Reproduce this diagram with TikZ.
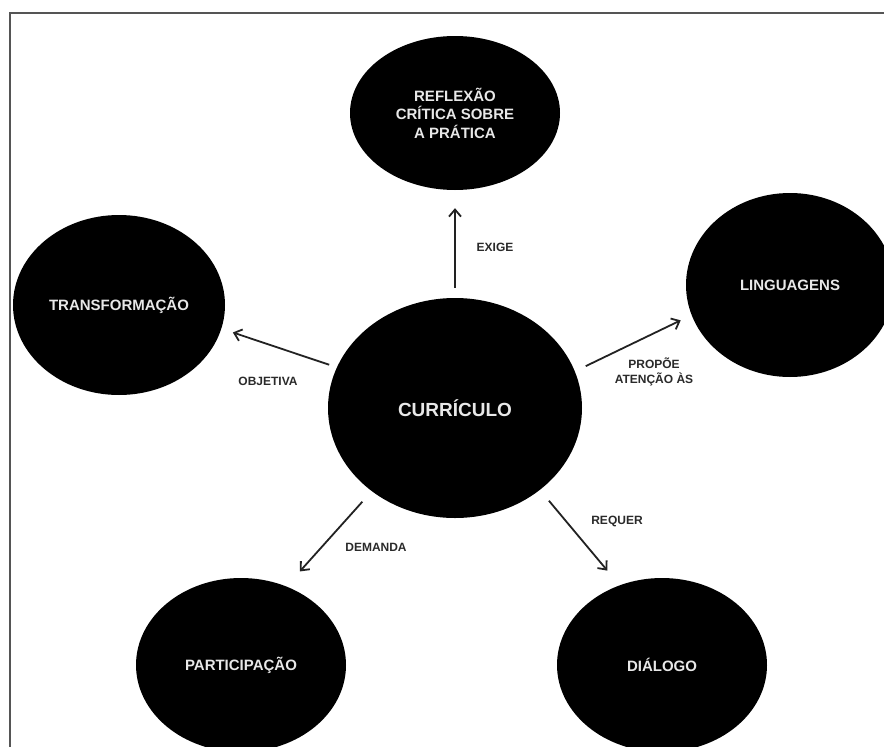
\documentclass[tikz,border=0pt]{standalone}
\usepackage{fontspec}
\setmainfont{Liberation Sans}
\usetikzlibrary{arrows.meta, shapes.geometric}
\definecolor{inkgrey}{HTML}{222222}
\definecolor{framegrey}{HTML}{555555}
\definecolor{softwhite}{HTML}{E8E8E8}
\definecolor{verbgrey}{HTML}{2A2A2A}

\begin{document}
\begin{tikzpicture}[
  x=1pt, y=-1pt,
  >={Straight Barb[length=7pt, width=12pt]},
  bubble/.style={
    ellipse, fill=black, draw=none, inner sep=0pt,
    minimum width=210pt, minimum height=174pt,
    font=\bfseries\fontsize{15}{18.5}\selectfont,
    text=softwhite, align=center
  },
  verb/.style={font=\bfseries\fontsize{12}{15}\selectfont, text=verbgrey, align=center},
  arr/.style={->, line width=1.8pt, inkgrey},
]

% Page and frame
\useasboundingbox (0,0) rectangle (884,747);
\clip (0,0) rectangle (884,747);
\draw[framegrey, line width=1.8pt] (10,13) rectangle (900,770);

% Center ellipse
\node[bubble, minimum width=254pt, minimum height=220pt,
      font=\bfseries\fontsize{19}{22}\selectfont]
  (curriculo) at (455,408) {CURRÍCULO};

% =============================================
% Spoke 1: Top
% =============================================
\node[bubble, minimum height=154pt] (reflexao) at (455,113)
  {REFLEXÃO\\CRÍTICA SOBRE\\A PRÁTICA};

\draw[arr, shorten <=10pt, shorten >=18pt] (curriculo.north) -- (reflexao.south);
\node[verb] (exige) at (495,247) {EXIGE};

% =============================================
% Spoke 2: Right
% =============================================
\node[bubble, minimum width=208pt, minimum height=184pt] (linguagens) at (790,285)
  {LINGUAGENS};

\draw[arr, shorten <=12pt, shorten >=12pt] (curriculo.17) -- (linguagens.197);
\node[verb] (propoe) at (654,372) {PROPÕE\\ATENÇÃO ÀS};

% =============================================
% Spoke 3: Left
% =============================================
\node[bubble, minimum width=212pt, minimum height=180pt] (transformacao) at (119,305)
  {TRANSFORMAÇÃO};

\draw[arr, shorten <=8pt, shorten >=12pt] (curriculo.161) -- (transformacao.-13);
\node[verb] (objetiva) at (268,381) {OBJETIVA};

% =============================================
% Spoke 4: Bottom left
% =============================================
\node[bubble] (participacao) at (241,665) {PARTICIPAÇÃO};

\draw[arr, shorten <=14pt, shorten >=20pt] (curriculo.225) -- (participacao.60);
\node[verb] (demanda) at (376,547) {DEMANDA};

% =============================================
% Spoke 5: Bottom right
% =============================================
\node[bubble] (dialogo) at (662,665) {DIÁLOGO};

\draw[arr, shorten <=14pt, shorten >=19pt] (curriculo.-44) -- (dialogo.118);
\node[verb] (requer) at (617,521) {REQUER};

\end{tikzpicture}
\end{document}
